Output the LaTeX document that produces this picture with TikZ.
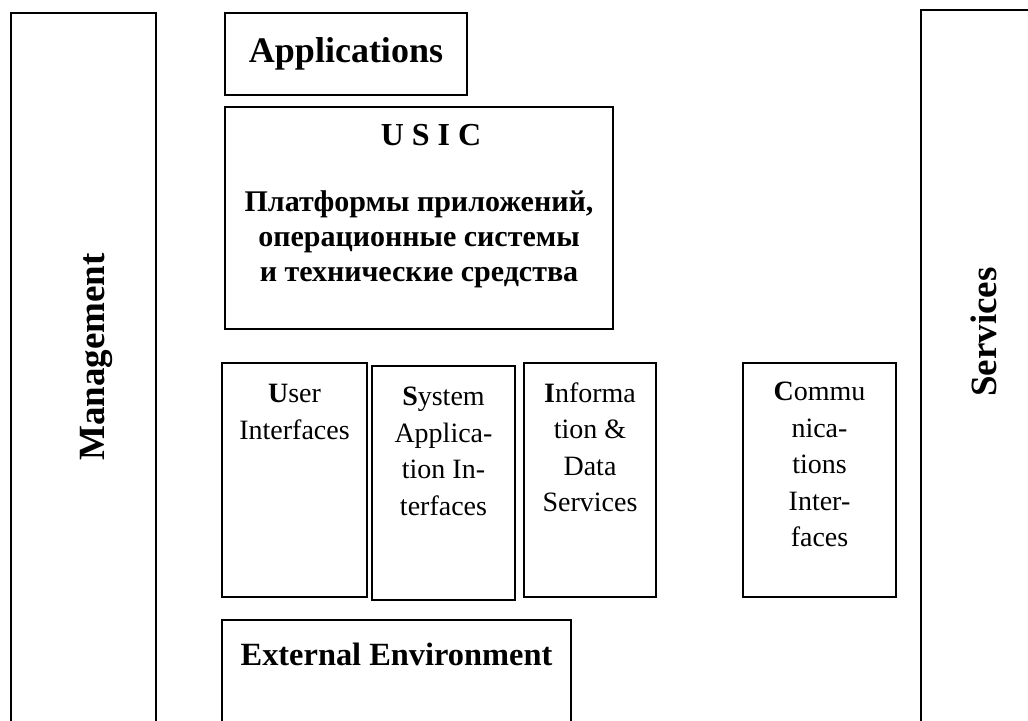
\documentclass[tikz,border=0pt]{standalone}
\usepackage{fontspec}
\setmainfont{Liberation Serif}
\usetikzlibrary{positioning}

\begin{document}
\begin{tikzpicture}[x=0.5pt,y=0.5pt,
		box/.style={draw, line width=1pt, rectangle, inner sep=0pt},
		txt/.style={inner sep=0pt, align=center, font=\fontsize{14}{18.25}\selectfont},
		side/.style={inner sep=0pt, rotate=90, font=\fontsize{18.5}{22}\selectfont\bfseries}]
	\useasboundingbox (0,0) rectangle (1028,720);
	
	\node[box, minimum width=72.5pt, minimum height=363.5pt] (mgmt) at (83.5,343.5) {};
	\node[side] (mgmtlbl) at (96,363) {Management};
	\node[box, minimum width=59.5pt, minimum height=365pt] (serv) at (980.5,345) {};
	\node[side] (servlbl) at (984,388) {Services};
	
	\node[box, minimum width=121pt, minimum height=41pt,
		font=\fontsize{18}{22}\selectfont\bfseries] (apps) at (346,666) {Applications};
	\node[box, minimum width=194pt, minimum height=111pt] (usic) at (419,502) {};
	\node[inner sep=0pt, align=center, font=\fontsize{15}{17.5}\selectfont\bfseries,
		below=9pt of usic.north] (usiclbl) {{\fontsize{16}{17.5}\selectfont\hspace*{12pt}U S I C}\\[15.5pt]
		Платформы приложений,\\операционные системы\\и технические средства};
	
	\node[box, minimum width=72.5pt, minimum height=117pt] (user) at (294.5,240) {};
	\node[box, minimum width=71.5pt, minimum height=117pt] (sys) at (443.5,237) {};
	\node[box, minimum width=66pt, minimum height=117pt] (info) at (590,240) {};
	\node[box, minimum width=76.5pt, minimum height=117pt] (comm) at (819.5,240) {};
	\node[txt, below=11pt of user.north] (userlbl) {\textbf{U}ser\\Interfaces};
	\node[txt, below=11pt of sys.north] (syslbl) {\textbf{S}ystem\\Applica-\\tion In-\\terfaces};
	\node[txt, below=10pt of info.north] (infolbl) {\textbf{I}nforma\\tion \&\\Data\\Services};
	\node[txt, below=10pt of comm.north] (commlbl) {\textbf{C}ommu\\nica-\\tions\\Inter-\\faces};
	
	\node[box, minimum width=174.5pt, minimum height=60pt] (ext) at (396.5,40) {};
	\node[inner sep=0pt, font=\fontsize{16.2}{20}\selectfont\bfseries,
		below=12pt of ext.north] (extlbl) {External Environment};
\end{tikzpicture}
\end{document}
